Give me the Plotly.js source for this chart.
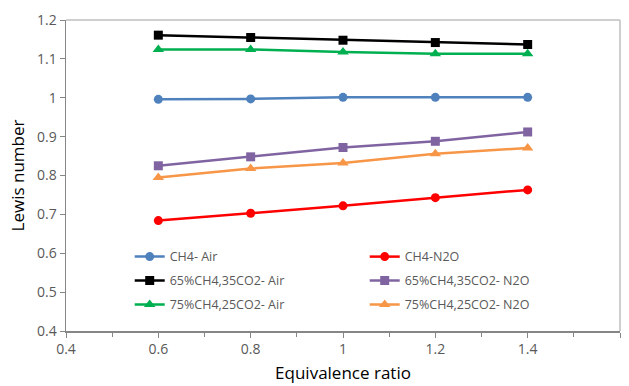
<!DOCTYPE html>
<html>
<head>
<meta charset="utf-8">
<script src="https://cdn.plot.ly/plotly-3.0.1.min.js"></script>
<style>
  html, body { margin: 0; padding: 0; background: #ffffff; }
  #chart { width: 629px; height: 386px; }
</style>
</head>
<body>
<div id="chart"></div>
<script>
// Equivalence ratio values
const phi = [0.6, 0.8, 1.0, 1.2, 1.4];

// Lewis number for each mixture / oxidiser
const ch4Air      = [0.996, 0.997, 1.001, 1.001, 1.001];
const ch4N2O      = [0.684, 0.703, 0.722, 0.743, 0.763];
const ch4_65Air   = [1.161, 1.155, 1.148, 1.142, 1.137];
const ch4_65N2O   = [0.825, 0.848, 0.872, 0.888, 0.912];
const ch4_75Air   = [1.124, 1.124, 1.118, 1.113, 1.113];
const ch4_75N2O   = [0.795, 0.818, 0.832, 0.856, 0.871];

const names = [
  'CH4- Air', 'CH4-N2O',
  '65%CH4,35CO2- Air', '65%CH4,35CO2- N2O',
  '75%CH4,25CO2- Air', '75%CH4,25CO2- N2O'
];

function series(y, name, color, symbol, size, legendId) {
  return {
    x: phi, y: y, name: name, type: 'scatter', mode: 'lines+markers',
    legend: legendId,
    line: { color: color, width: 2.5 },
    marker: { color: color, symbol: symbol, size: size }
  };
}

// one legend row per mixture: Air on the left, N2O on the right
const data = [
  series(ch4Air,    names[0], '#4f81bd', 'circle',        9, 'legend'),
  series(ch4N2O,    names[1], '#ff0000', 'circle',        9, 'legend'),
  series(ch4_65Air, names[2], '#000000', 'square',        9, 'legend2'),
  series(ch4_65N2O, names[3], '#8064a2', 'square',        9, 'legend2'),
  series(ch4_75Air, names[4], '#00b050', 'triangle-up',  10, 'legend3'),
  series(ch4_75N2O, names[5], '#f79646', 'triangle-up',  10, 'legend3')
];

const baseFont = 'Open Sans, Liberation Sans, sans-serif';
const tickFont = { family: baseFont, size: 14, color: '#595959' };

function legendRow(y) {
  return {
    orientation: 'h',
    x: 0.115, y: y, xanchor: 'left', yanchor: 'middle',
    entrywidth: 190, entrywidthmode: 'pixels',
    bgcolor: 'rgba(0,0,0,0)',
    font: { family: baseFont, size: 12.5, color: '#595959' },
    itemwidth: 30
  };
}

const layout = {
  width: 629, height: 386,
  margin: { l: 66, r: 9, t: 20, b: 55 },
  paper_bgcolor: '#ffffff', plot_bgcolor: '#ffffff',
  showlegend: true,
  legend: legendRow(0.238),
  legend2: legendRow(0.161),
  legend3: legendRow(0.084),
  xaxis: {
    range: [0.4, 1.6], dtick: 0.2, tick0: 0.4,
    showgrid: false, zeroline: false,
    showline: true, linecolor: '#868686', linewidth: 1.5, mirror: false,
    ticks: 'outside', ticklen: 5, tickcolor: '#868686',
    minor: { dtick: 0.1, ticks: 'outside', ticklen: 4, tickcolor: '#868686', showgrid: false },
    tickfont: tickFont,
    title: { text: 'Equivalence ratio', font: { family: baseFont, size: 17, color: '#000000' }, standoff: 10 }
  },
  yaxis: {
    range: [0.4, 1.2], dtick: 0.1, tick0: 0.4,
    showgrid: false, zeroline: false,
    showline: true, linecolor: '#868686', linewidth: 1.5,
    ticks: 'outside', ticklen: 5, tickcolor: '#868686',
    tickfont: tickFont,
    title: { text: 'Lewis number', font: { family: baseFont, size: 17, color: '#000000' }, standoff: 8 }
  },
  shapes: [
    // light frame on the top and right of the plotting area
    { type: 'line', xref: 'paper', yref: 'paper', x0: 0, x1: 1, y0: 1, y1: 1, line: { color: '#bfbfbf', width: 1.5 } },
    { type: 'line', xref: 'paper', yref: 'paper', x0: 1, x1: 1, y0: 0, y1: 1, line: { color: '#bfbfbf', width: 1.5 } }
  ]
};

Plotly.newPlot('chart', data, layout, { displayModeBar: false, staticPlot: true });
</script>
</body>
</html>
